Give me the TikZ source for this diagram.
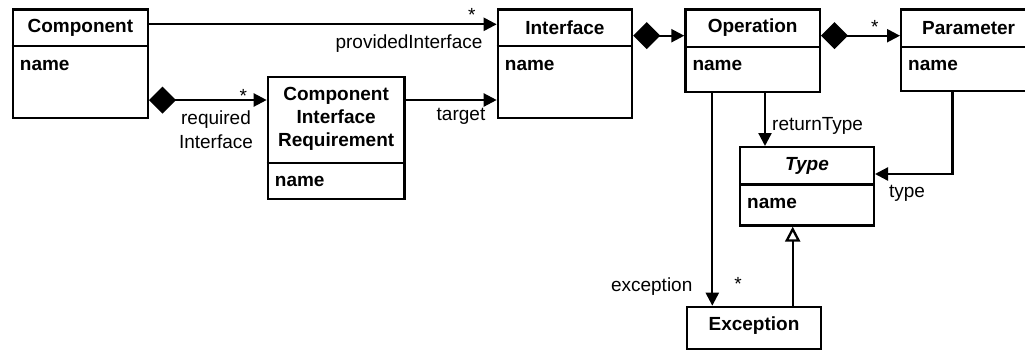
\documentclass[tikz,border=0pt]{standalone}
\usepackage{fontspec}
\setmainfont{Liberation Sans}
\usetikzlibrary{arrows.meta}
\begin{document}
\begin{tikzpicture}[x=1pt,y=-1pt,
  box/.style={draw, line width=2.3pt, anchor=north west, inner sep=0pt, minimum width=135pt},
  hdr/.style={font=\bfseries\fontsize{19}{23}\selectfont, align=center, inner sep=0pt},
  attr/.style={font=\bfseries\fontsize{19}{23}\selectfont, anchor=west, inner sep=0pt},
  lbl/.style={font=\fontsize{19}{23.5}\selectfont, inner sep=0pt, align=center},
  conn/.style={line width=2.3pt},
  nav/.style={conn, -{Triangle[length=13pt,width=13pt]}},
  compo/.style={conn, {Diamond[length=27pt,width=27pt]}-{Triangle[length=13pt,width=13pt]}},
  gen/.style={conn, -{Triangle[open,length=15pt,width=15pt,fill=white]}}
]
\useasboundingbox (0,0) rectangle (1025,349);
\fill[white] (0,0) rectangle (1025,349);

% Component
\node[box, minimum height=108.4pt] (comp) at (11.7,8.3) {};
\draw[conn] ([yshift=-37.7pt]comp.north west) -- ([yshift=-37.7pt]comp.north east);
\node[hdr] (compT) at ([yshift=-19.5pt]comp.north) {Component};
\node[attr] (compA) at ([xshift=8pt,yshift=-56.7pt]comp.north west) {name};

% Component Interface Requirement
\node[box, minimum height=121.7pt, minimum width=136.6pt] (cir) at (266.7,76) {};
\draw[conn] ([yshift=-86.7pt]cir.north west) -- ([yshift=-86.7pt]cir.north east);
\node[hdr] (cirT) at ([yshift=-42.5pt]cir.north) {Component\\Interface\\Requirement};
\node[attr] (cirA) at ([xshift=8pt,yshift=-105.7pt]cir.north west) {name};

% Interface
\node[box, minimum height=108.4pt, minimum width=134.2pt] (iface) at (496.7,8.3) {};
\draw[conn] ([yshift=-38pt]iface.north west) -- ([yshift=-38pt]iface.north east);
\node[hdr] (ifaceT) at ([yshift=-19.5pt]iface.north) {Interface};
\node[attr] (ifaceA) at ([xshift=8pt,yshift=-57pt]iface.north west) {name};

% Operation
\node[box, minimum height=82.7pt, minimum width=134.4pt] (op) at (684.3,8.3) {};
\draw[conn] ([yshift=-38.4pt]op.north west) -- ([yshift=-38.4pt]op.north east);
\node[hdr] (opT) at ([yshift=-19.5pt]op.north) {Operation};
\node[attr] (opA) at ([xshift=8pt,yshift=-57pt]op.north west) {name};

% Parameter
\node[box, minimum height=81.5pt] (param) at (900,8.3) {};
\draw[conn] ([yshift=-38.4pt]param.north west) -- ([yshift=-38.4pt]param.north east);
\node[hdr] (paramT) at ([yshift=-19.5pt]param.north) {Parameter};
\node[attr] (paramA) at ([xshift=8pt,yshift=-57pt]param.north west) {name};

% Type
\node[box, minimum height=78.3pt, minimum width=133.7pt] (type) at (739,146) {};
\draw[conn] ([yshift=-38.4pt]type.north west) -- ([yshift=-38.4pt]type.north east);
\node[hdr, font=\bfseries\itshape\fontsize{19}{23}\selectfont] (typeT) at ([yshift=-19.5pt]type.north) {Type};
\node[attr] (typeA) at ([xshift=8pt,yshift=-57.5pt]type.north west) {name};

% Exception
\node[box, minimum height=42pt, minimum width=134.3pt] (exc) at (685.7,305.7) {};
\node[hdr] (excT) at ([yshift=-19.5pt]exc.north) {Exception};

% connectors
\draw[nav] ([yshift=-16pt]comp.north east) -- ([yshift=-16pt]iface.north west);
\draw[compo] ([yshift=-91.7pt]comp.north east) -- ([yshift=-24pt]cir.north west);
\draw[nav] ([yshift=-24pt]cir.north east) -- ([yshift=-91.7pt]iface.north west);
\draw[compo] ([yshift=-27.4pt]iface.north east) -- ([yshift=-27.4pt]op.north west);
\draw[compo] ([yshift=-27.4pt]op.north east) -- ([yshift=-27.4pt]param.north west);

\coordinate (rtS) at ([xshift=80.7pt]op.south west);
\draw[nav] (rtS) -- (rtS |- type.north);

\coordinate (ptS) at ([xshift=52.5pt]param.south west);
\draw[nav] (ptS) |- ([yshift=-28pt]type.north east);

\coordinate (exS) at ([xshift=28pt]op.south west);
\draw[nav] (exS) -- (exS |- exc.north);

\coordinate (genS) at ([xshift=107pt]exc.north west);
\draw[gen] (genS) -- (genS |- type.south);

% labels
\node[lbl] (l1s) at (471.7,15) {*};
\node[lbl] (l1) at (409,43.3) {providedInterface};
\node[lbl] (l2s) at (243.3,95.5) {*};
\node[lbl] (l2) at (216,129.5) {required\\Interface};
\node[lbl] (l3) at (461,116) {target};
\node[lbl] (l5s) at (874.8,27) {*};
\node[lbl, anchor=west] (l6) at (772,126.3) {returnType};
\node[lbl] (l7) at (907,193) {type};
\node[lbl] (l8) at (651.7,286.7) {exception};
\node[lbl] (l8s) at (738,284) {*};
\end{tikzpicture}
\end{document}
